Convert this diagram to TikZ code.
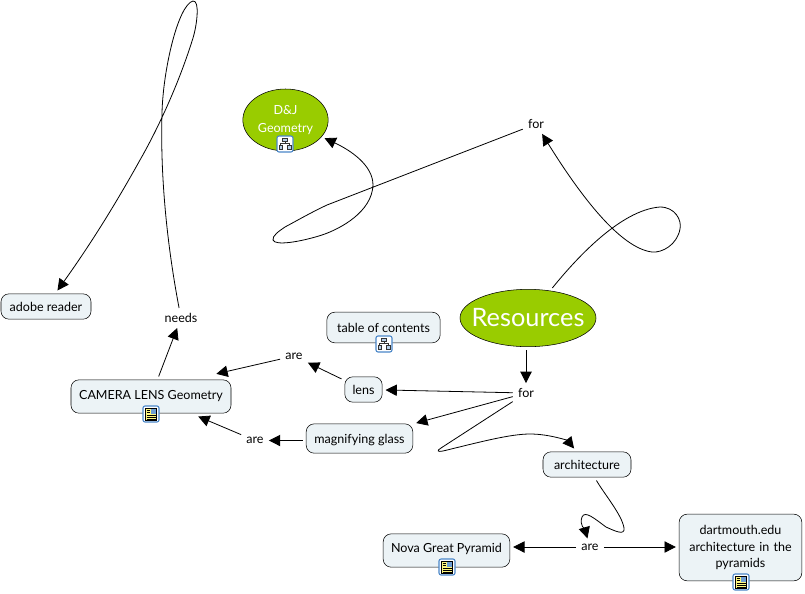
\documentclass[tikz,border=0pt]{standalone}
\usepackage{fontspec}
\setmainfont{Lato}
\usetikzlibrary{arrows.meta,shapes.geometric}
\definecolor{leaf}{HTML}{99CC00}
\definecolor{pale}{HTML}{ECF3F6}
\definecolor{iconblue}{HTML}{4A86C8}
\tikzset{
  treeicon/.pic={
    \draw[iconblue, fill=white, rounded corners=1.5, line width=.8pt] (-8,-8) rectangle (8,8);
    \draw[black!80, fill=iconblue!40, line width=.6pt] (-2.5,-6) rectangle (2.5,-2.5)
      (-6,1.5) rectangle (-2.5,5) (2.5,1.5) rectangle (6,5);
    \draw[black!80, line width=.6pt] (0,-2.5) -- (0,-.5) (-4.2,1.5) -- (-4.2,-.5) -- (4.2,-.5) -- (4.2,1.5);
  },
  docicon/.pic={
    \draw[iconblue, fill=white, rounded corners=1.5, line width=.8pt] (-8,-8) rectangle (8,8);
    \draw[black, fill=yellow!50, line width=.5pt] (-5.5,-6) rectangle (5.5,6.5);
    \fill[iconblue!80] (0,-5) rectangle (4.5,-.5);
    \foreach \yy in {1,3,5}{\draw[black, line width=.5pt] (-4.5,\yy) -- (4.5,\yy);}
    \draw[black, line width=.5pt] (-4.5,-3.5) -- (-1,-3.5) (-4.5,-1.5) -- (-1,-1.5);
  }
}
\begin{document}
\begin{tikzpicture}[
  x=0.75pt, y=-0.75pt, font=\fontsize{9.4}{12.4}\selectfont,
  >={Triangle[length=8.5pt, width=8.5pt]},
  topic/.style={draw, ellipse, fill=leaf, text=white, align=center, inner sep=0pt, outer sep=2.5pt},
  concept/.style={draw, rounded corners=6pt, fill=pale, align=center, inner sep=0pt, outer sep=2.5pt},
  phrase/.style={align=center, inner sep=1.5pt, outer sep=2.5pt},
  link/.style={->, line width=.6pt}]
  \useasboundingbox (0,0) rectangle (805,593);
  \node[topic, minimum width=64pt, minimum height=46.5pt, inner xsep=-6pt, inner ysep=-4pt] (geometry) at (285.5,120) {D\&J\\[1pt]Geometry};
  \node[topic, minimum width=102pt, minimum height=43pt, inner xsep=-12pt, inner ysep=-6pt, font=\fontsize{19}{20}\selectfont] (resources) at (528,318) {Resources};
  \node[concept, minimum width=67.5pt, minimum height=19pt] (adobe) at (46,306.5) {adobe reader};
  \node[concept, minimum width=120pt, minimum height=25pt, text depth=3pt] (camera) at (151,396.5) {CAMERA LENS Geometry};
  \node[concept, minimum width=85pt, minimum height=23pt] (contents) at (383.5,327.5) {table of contents};
  \node[concept, minimum width=28pt, minimum height=19pt] (lens) at (363.5,389.5) {lens};
  \node[concept, minimum width=80pt, minimum height=22pt, text height=9pt] (glass) at (359.5,438.5) {magnifying glass};
  \node[concept, minimum width=66pt, minimum height=19pt] (arch) at (587,464.5) {architecture};
  \node[concept, minimum width=95pt, minimum height=25pt, text depth=4pt] (nova) at (446.5,550.5) {Nova Great Pyramid};
  \node[concept, minimum width=92pt, minimum height=50pt, text width=90pt] (dartmouth) at (740.5,547.5)
     {dartmouth.edu\\architecture in the\\pyramids};
  \node[phrase] (needs) at (181,318) {needs};
  \node[phrase] (areLens) at (294,356) {are};
  \node[phrase] (areGlass) at (255,440.5) {are};
  \node[phrase] (forRes) at (526,393) {for};
  \node[phrase] (forTop) at (536,124) {for};
  \node[phrase] (arePyr) at (590,547) {are};
  \pic at (285,144) {treeicon};
  \pic at (384,344) {treeicon};
  \pic at (151,414) {docicon};
  \pic at (447,567) {docicon};
  \pic at (741,582) {docicon};
  \foreach \a/\b in {camera/needs, lens/areLens, areGlass/camera, forRes/lens, forRes/glass}{
    \draw[link] (\a) -- (\b);}
  \draw[link] (areLens) -- ([xshift=49pt, yshift=2pt]camera.north);
  \draw[link] (forRes |- resources.south) -- (forRes);
  \draw[link] (glass.west |- areGlass) -- (areGlass);
  \draw[link] (arePyr) -- (arePyr -| nova.east);
  \draw[link] (arePyr) -- (arePyr -| dartmouth.west);
  \draw[link] (needs) .. controls (168,250) and (160,180) .. (162,113)
     .. controls (163,70) and (178,5) .. (193,1)
     .. controls (200,0) and (197,25) .. (193,38)
     .. controls (180,80) and (160,125) .. (140,160)
     .. controls (115,205) and (90,245) .. (adobe);
  \draw[link] (forTop) -- (327,205)
     .. controls (312,212) and (298,220) .. (285,227)
     .. controls (279,231) and (272,236) .. (273,240)
     .. controls (275,246) and (300,242) .. (322,235)
     .. controls (340,229) and (372,212) .. (373,185)
     .. controls (373,165) and (350,150) .. (geometry);
  \draw[link] (resources) .. controls (575,260) and (620,210) .. (660,207)
     .. controls (675,207) and (682,220) .. (680,229)
     .. controls (677,245) and (662,253) .. (652,252)
     .. controls (620,248) and (580,195) .. (forTop);
  \draw[link] (forRes) -- (441,448) .. controls (436,451) and (438,452) .. (443,451)
     .. controls (480,442) and (510,434) .. (530,434)
     .. controls (550,434) and (568,441) .. (arch);
  \draw[link] (arch) .. controls (605,495) and (622,515) .. (624,528)
     .. controls (625,536) and (615,531) .. (606,527)
     .. controls (595,519) and (585,510) .. (582,517)
     .. controls (579,525) and (585,530) .. (arePyr);
\end{tikzpicture}
\end{document}
